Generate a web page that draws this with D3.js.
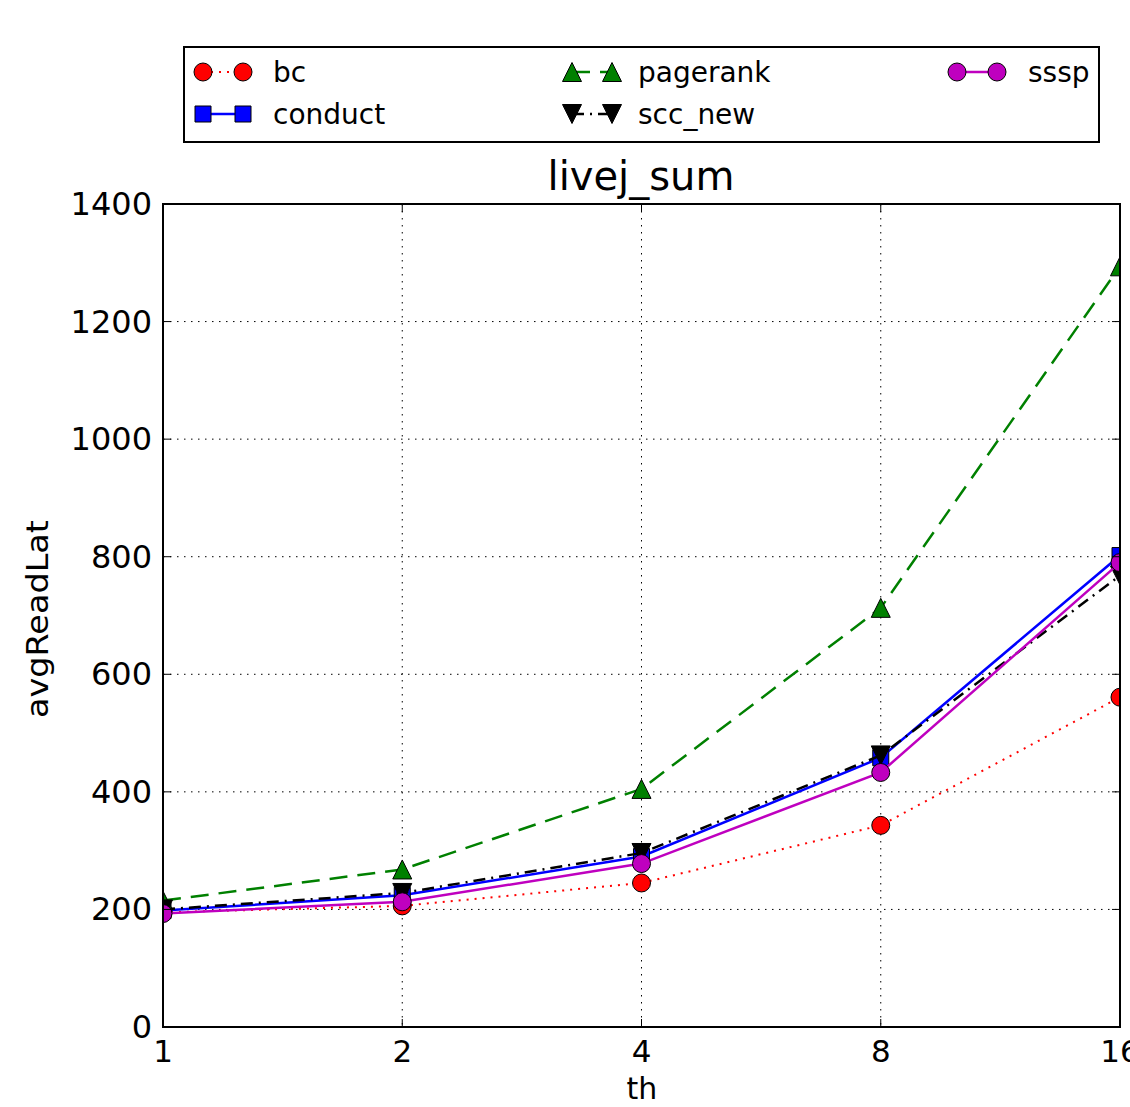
<!DOCTYPE html>
<html><head><meta charset="utf-8">
<script src="https://cdnjs.cloudflare.com/ajax/libs/d3/7.8.5/d3.min.js"></script>
<style>body{margin:0;background:#fff}svg{display:block}text{font-family:"DejaVu Sans",sans-serif}</style>
</head><body>
<script>
const threads = [1, 2, 4, 8, 16];
const yTicks = [0, 200, 400, 600, 800, 1000, 1200, 1400];
const bc = [195, 206, 245, 343, 561];
const conduct = [198, 224, 290, 458, 802];
const pagerank = [215, 268, 405, 713, 1294];
const scc_new = [200, 228, 296, 462, 768];
const sssp = [193, 213, 278, 433, 790];

const series = [
  {name: "bc", values: bc, color: "#ff0000", dash: "2,6", marker: "circle", lw: 2},
  {name: "conduct", values: conduct, color: "#0000ff", dash: null, marker: "square", lw: 2.5},
  {name: "pagerank", values: pagerank, color: "#008000", dash: "18,10", marker: "triangle-up", lw: 2.5},
  {name: "scc_new", values: scc_new, color: "#000000", dash: "12,6,2,6", marker: "triangle-down", lw: 2.5},
  {name: "sssp", values: sssp, color: "#bf00bf", dash: null, marker: "circle", lw: 2.5}
];

const W = 1130, H = 1107;
const L = 163, R = 1120, T = 204, B = 1027;
const svg = d3.select("body").append("svg").attr("width", W).attr("height", H);

const x = d3.scaleLog().base(2).domain([1, 16]).range([L, R]);
const y = d3.scaleLinear().domain([0, 1400]).range([B, T]);

svg.append("defs").append("clipPath").attr("id", "clip")
  .append("rect").attr("x", L).attr("y", T).attr("width", R - L).attr("height", B - T);

// grid
const grid = svg.append("g");
grid.selectAll(".gx").data(threads).join("line")
  .attr("x1", d => x(d)).attr("x2", d => x(d)).attr("y1", T).attr("y2", B)
  .attr("stroke", "#000").attr("stroke-width", 1).attr("stroke-dasharray", "1.5,5.5");
grid.selectAll(".gy").data(yTicks).join("line")
  .attr("x1", L).attr("x2", R).attr("y1", d => y(d)).attr("y2", d => y(d))
  .attr("stroke", "#000").attr("stroke-width", 1).attr("stroke-dasharray", "1.5,5.5");

function markerPath(type, cx, cy) {
  if (type === "square") { const s = 8; return `M${cx-s},${cy-s}h${2*s}v${2*s}h${-2*s}Z`; }
  if (type === "triangle-up") { const s = 9.5; return `M${cx},${cy-s}L${cx+s},${cy+s}L${cx-s},${cy+s}Z`; }
  if (type === "triangle-down") { const s = 9.5; return `M${cx},${cy+s}L${cx+s},${cy-s}L${cx-s},${cy-s}Z`; }
  return null;
}
function drawMarker(g, type, cx, cy, color) {
  if (type === "circle") {
    g.append("circle").attr("cx", cx).attr("cy", cy).attr("r", 9)
      .attr("fill", color).attr("stroke", "#000").attr("stroke-width", 1);
  } else {
    g.append("path").attr("d", markerPath(type, cx, cy))
      .attr("fill", color).attr("stroke", "#000").attr("stroke-width", 1);
  }
}

const plot = svg.append("g").attr("clip-path", "url(#clip)");
const line = d3.line().x((d, i) => x(threads[i])).y(d => y(d));
series.forEach(s => {
  plot.append("path").attr("d", line(s.values)).attr("fill", "none")
    .attr("stroke", s.color).attr("stroke-width", s.lw)
    .attr("stroke-dasharray", s.dash);
  s.values.forEach((v, i) => drawMarker(plot, s.marker, x(threads[i]), y(v), s.color));
});

// frame
svg.append("rect").attr("x", L).attr("y", T).attr("width", R - L).attr("height", B - T)
  .attr("fill", "none").attr("stroke", "#000").attr("stroke-width", 2);

// ticks (inward, all sides)
const tk = 8;
threads.forEach(t => {
  svg.append("line").attr("x1", x(t)).attr("x2", x(t)).attr("y1", B).attr("y2", B - tk).attr("stroke", "#000").attr("stroke-width", 1);
  svg.append("line").attr("x1", x(t)).attr("x2", x(t)).attr("y1", T).attr("y2", T + tk).attr("stroke", "#000").attr("stroke-width", 1);
});
yTicks.forEach(v => {
  svg.append("line").attr("x1", L).attr("x2", L + tk).attr("y1", y(v)).attr("y2", y(v)).attr("stroke", "#000").attr("stroke-width", 1);
  svg.append("line").attr("x1", R).attr("x2", R - tk).attr("y1", y(v)).attr("y2", y(v)).attr("stroke", "#000").attr("stroke-width", 1);
});

// tick labels
svg.selectAll(".xl").data(threads).join("text")
  .attr("x", d => x(d)).attr("y", 1062).attr("text-anchor", "middle")
  .attr("font-size", 31).attr("fill", "#000").text(d => d);
svg.selectAll(".yl").data(yTicks).join("text")
  .attr("x", 152).attr("y", d => y(d) + 11).attr("text-anchor", "end")
  .attr("font-size", 32).attr("fill", "#000").text(d => d);

// axis labels & title
svg.append("text").attr("x", 642).attr("y", 1099).attr("text-anchor", "middle")
  .attr("font-size", 30).text("th");
svg.append("text").attr("transform", "translate(48,619) rotate(-90)").attr("text-anchor", "middle")
  .attr("font-size", 31).attr("textLength", 198).attr("lengthAdjust", "spacingAndGlyphs").text("avgReadLat");
svg.append("text").attr("x", 641).attr("y", 190).attr("text-anchor", "middle")
  .attr("font-size", 40).text("livej_sum");

// legend
const lg = svg.append("g");
lg.append("rect").attr("x", 184).attr("y", 47).attr("width", 915).attr("height", 95)
  .attr("fill", "#fff").attr("stroke", "#000").attr("stroke-width", 2);
const legPos = [
  {mx: 203, tx: 273, y: 72},
  {mx: 203, tx: 273, y: 114},
  {mx: 572, tx: 638, y: 72},
  {mx: 572, tx: 638, y: 114},
  {mx: 957, tx: 1028, y: 72}
];
series.forEach((s, i) => {
  const p = legPos[i];
  lg.append("line").attr("x1", p.mx).attr("x2", p.mx + 40).attr("y1", p.y).attr("y2", p.y)
    .attr("stroke", s.color).attr("stroke-width", s.lw).attr("stroke-dasharray", s.dash);
  drawMarker(lg, s.marker, p.mx, p.y, s.color);
  drawMarker(lg, s.marker, p.mx + 40, p.y, s.color);
  lg.append("text").attr("x", p.tx).attr("y", p.y + 10).attr("font-size", 28).text(s.name);
});
</script>
</body></html>
